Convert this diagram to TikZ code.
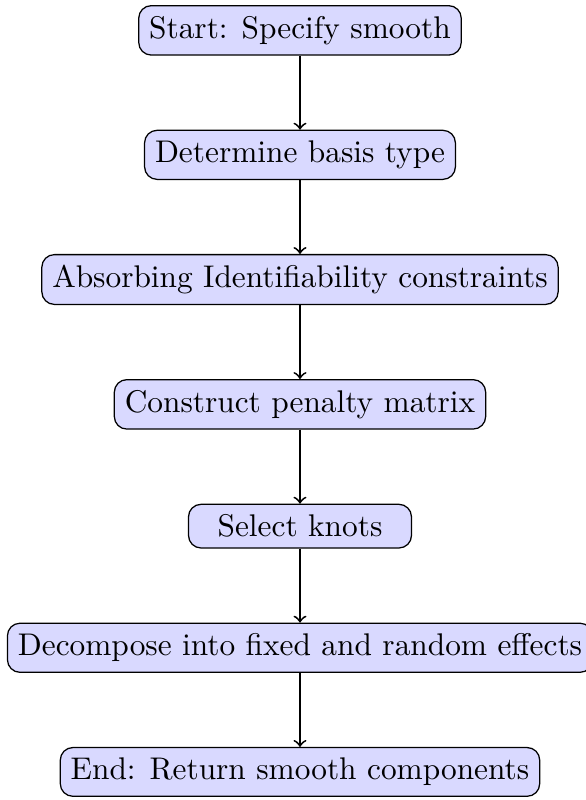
\documentclass[tikz,border=0pt]{standalone}
\usetikzlibrary{positioning}
\begin{document}
\begin{tikzpicture}[
  stepbox/.style={draw, rounded corners, fill=blue!15, minimum width=2.5cm},
  flow/.style={->, semithick},
  node distance=23.6pt
]
\useasboundingbox (-95.7pt,1.6pt) rectangle (91.2pt,-253.6pt);
\node[stepbox, anchor=north] (s1) at (0,0) {Start: Specify smooth};
\node[stepbox, below=of s1] (s2) {Determine basis type};
\node[stepbox, below=of s2] (s3) {Absorbing Identifiability constraints};
\node[stepbox, below=of s3] (s4) {Construct penalty matrix};
\node[stepbox, below=of s4] (s5) {Select knots};
\node[stepbox, below=of s5] (s6) {Decompose into fixed and random effects};
\node[stepbox, below=of s6] (s7) {End: Return smooth components};
\draw[flow] (s1) -- (s2);
\draw[flow] (s2) -- (s3);
\draw[flow] (s3) -- (s4);
\draw[flow] (s4) -- (s5);
\draw[flow] (s5) -- (s6);
\draw[flow] (s6) -- (s7);
\end{tikzpicture}
\end{document}
